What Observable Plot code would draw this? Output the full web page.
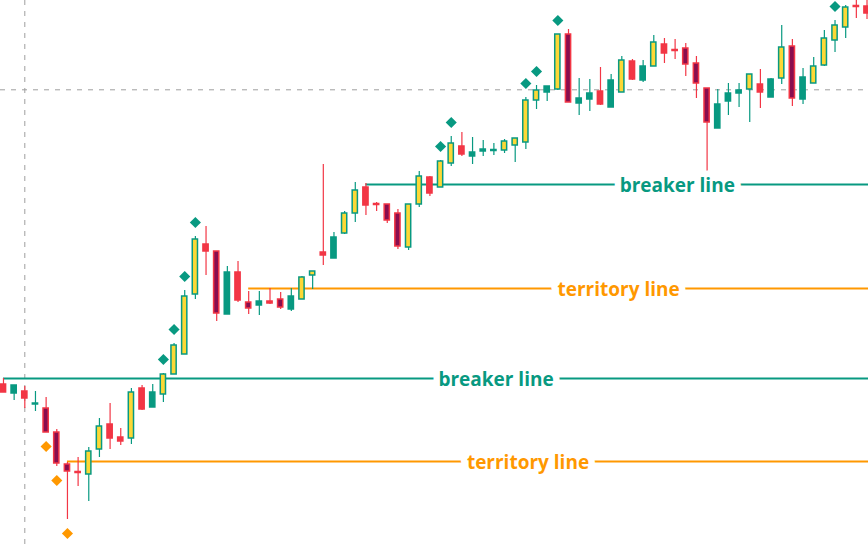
<!DOCTYPE html>
<html>
<head>
<meta charset="utf-8">
<script src="https://cdn.jsdelivr.net/npm/d3@7"></script>
<script src="https://cdn.jsdelivr.net/npm/@observablehq/plot@0.6"></script>
<style>
  html, body { margin: 0; padding: 0; background: #fff; overflow: hidden; }
  #chart svg { display: block; }
</style>
</head>
<body>
<div id="chart"></div>
<script>
// Candle kinds: G = bullish, Y = strong bullish, R = bearish, M = strong bearish
const candleKind = [
  "R","G","R","G","M","M","M","R","Y","Y",
  "R","R","Y","R","G","Y","Y","Y","Y","R",
  "M","G","R","M","G","R","M","G","Y","Y",
  "R","G","Y","Y","R","R","M","M","Y","Y",
  "R","Y","Y","R","G","G","G","Y","Y","Y",
  "Y","G","Y","M","G","G","R","G","Y","R",
  "G","Y","R","R","M","M","M","G","G","G",
  "Y","R","G","Y","M","G","Y","Y","Y","Y",
  "R","R"
];
const open = [
  116.1,115.2,115.4,114.1,113.7,111.3,108.1,107.35,107.1,109.6,
  112.1,110.8,110.7,115.7,113.8,115.1,117.1,119.1,125.1,130.1,
  129.4,123.1,127.3,124.3,124.0,124.4,124.6,123.6,124.6,127.0,
  129.3,128.7,131.2,133.2,135.8,134.15,134.1,133.2,129.8,134.1,
  136.8,135.8,138.2,139.9,138.9,139.4,139.45,139.5,140.0,140.3,
  144.5,145.3,145.6,151.1,144.2,144.6,145.4,143.8,145.3,148.4,
  146.5,147.9,150.1,149.55,149.7,148.2,145.7,141.7,144.4,145.2,
  145.6,146.1,144.8,146.7,149.9,144.6,146.2,148.0,150.5,151.8,
  153.95,153.9
];
const high = [
  116.7,116.0,115.9,115.4,114.8,111.6,108.3,108.8,109.8,112.7,
  114.2,111.7,115.7,116.0,116.1,117.2,120.2,125.5,130.9,131.9,
  129.4,127.9,128.4,125.4,125.4,125.7,125.3,125.7,126.9,127.4,
  138.1,131.3,133.4,136.3,136.2,134.3,134.1,133.6,134.1,137.4,
  136.9,138.5,140.9,141.3,140.8,140.5,140.2,140.6,140.7,144.8,
  146.0,145.9,151.1,151.6,146.7,146.6,147.8,147.1,148.9,148.6,
  148.5,151.0,150.7,150.6,150.2,148.9,145.7,145.6,146.2,146.2,
  147.1,147.6,146.7,152.0,150.6,147.7,148.8,151.5,152.5,154.0,
  154.8,154.7
];
const low = [
  115.3,114.5,113.7,113.4,111.3,107.9,102.6,105.9,104.4,108.8,
  109.6,110.0,110.1,113.5,113.8,114.3,117.1,119.1,124.6,127.0,
  122.4,123.1,124.3,123.1,123.0,124.1,123.6,123.4,124.6,125.6,
  128.0,128.7,131.1,132.3,133.0,133.4,132.2,129.6,129.5,133.8,
  134.9,135.8,137.9,138.9,138.1,138.9,139.0,139.2,138.3,139.6,
  143.6,144.4,145.5,144.3,143.0,143.4,144.0,143.8,145.3,146.5,
  146.3,147.9,148.2,148.6,146.9,144.7,136.5,141.7,143.0,143.8,
  142.3,143.7,144.8,146.1,143.9,144.1,146.2,147.9,149.3,150.7,
  152.7,152.6
];
const close = [
  115.3,116.0,114.7,114.2,111.3,108.2,107.4,107.25,109.4,111.9,
  110.7,110.4,115.3,113.6,115.3,117.1,120.0,124.9,130.6,129.4,
  123.2,127.3,124.5,123.7,124.4,124.2,123.8,124.9,126.8,127.4,
  129.0,130.8,133.2,135.5,134.0,134.05,132.5,129.9,134.1,136.9,
  135.2,138.4,140.2,139.1,139.3,139.6,139.55,140.4,140.7,144.5,
  145.5,145.9,151.1,144.3,144.7,145.2,144.1,146.5,148.5,146.6,
  147.9,150.3,149.2,149.45,148.1,146.2,142.3,144.1,145.2,145.5,
  147.1,145.3,146.6,149.8,144.7,146.8,147.9,150.7,152.0,153.8,
  153.85,153.2
];

// Signal markers (candle indices)
const upSignals = [15, 16, 17, 18, 41, 42, 49, 50, 52, 78];
const downSignals = [4, 5, 6];

// Horizontal levels
const levelKind  = ["breaker", "territory", "territory", "breaker"];
const levelLabel = ["breaker line", "territory line", "territory line", "breaker line"];
const levelPrice = [116.7, 108.4, 125.7, 136.1];
const levelStart = [0, 6, 23, 34];
const levelEnd   = [92.4, 92.4, 92.4, 92.4];

// Crosshair
const crossIndex = 2;
const crossPrice = 145.57;

const palette = {
  G: {fill: "#089981", stroke: "#089981"},
  R: {fill: "#f23645", stroke: "#f23645"},
  Y: {fill: "#fdd835", stroke: "#089981"},
  M: {fill: "#880e4f", stroke: "#f23645"}
};
const levelColor = {breaker: "#089981", territory: "#ff9800"};

const candles = open.map((o, i) => ({
  i, open: o, high: high[i], low: low[i], close: close[i], kind: candleKind[i]
}));
const up = upSignals.map(i => candles[i]);
const down = downSignals.map(i => candles[i]);
const levels = levelKind.map((k, j) => ({
  kind: k, label: levelLabel[j], price: levelPrice[j], start: levelStart[j], end: levelEnd[j]
}));

const bodyHalf = 0.245;

const chart = Plot.plot({
  width: 868,
  height: 545,
  margin: 0,
  x: {type: "linear", domain: [-0.28, 81.14], axis: null},
  y: {domain: [100, 154.5], axis: null},
  marks: [
    Plot.ruleX([crossIndex], {stroke: "#9e9e9e", strokeWidth: 1, strokeDasharray: "5,6"}),
    Plot.ruleY([crossPrice], {stroke: "#9e9e9e", strokeWidth: 1, strokeDasharray: "5,6"}),
    Plot.ruleY(levels, {
      y: "price", x1: "start", x2: "end",
      stroke: d => levelColor[d.kind], strokeWidth: 2, clip: true
    }),
    Plot.ruleX(candles, {
      x: "i", y1: "low", y2: "high",
      stroke: d => palette[d.kind].stroke, strokeWidth: 1.2
    }),
    Plot.rect(candles, {
      x1: d => d.i - bodyHalf, x2: d => d.i + bodyHalf,
      y1: "open", y2: "close",
      fill: d => palette[d.kind].fill,
      stroke: d => palette[d.kind].stroke,
      strokeWidth: 1.5
    }),
    Plot.dot(up, {x: "i", y: "high", dy: -14, symbol: "diamond2", r: 5, fill: "#089981"}),
    Plot.dot(down, {x: "i", y: "low", dy: 14, symbol: "diamond2", r: 5, fill: "#ff9800"}),
    Plot.text(levels, {
      x: d => (d.start + d.end) / 2, y: "price", text: "label",
      fill: d => levelColor[d.kind],
      stroke: "white", strokeWidth: 13, paintOrder: "stroke", strokeLinejoin: "round",
      fontSize: 19, fontWeight: "bold", fontFamily: "Open Sans",
      lineAnchor: "middle", dy: 1
    })
  ]
});
document.getElementById("chart").appendChild(chart);
</script>
</body>
</html>
